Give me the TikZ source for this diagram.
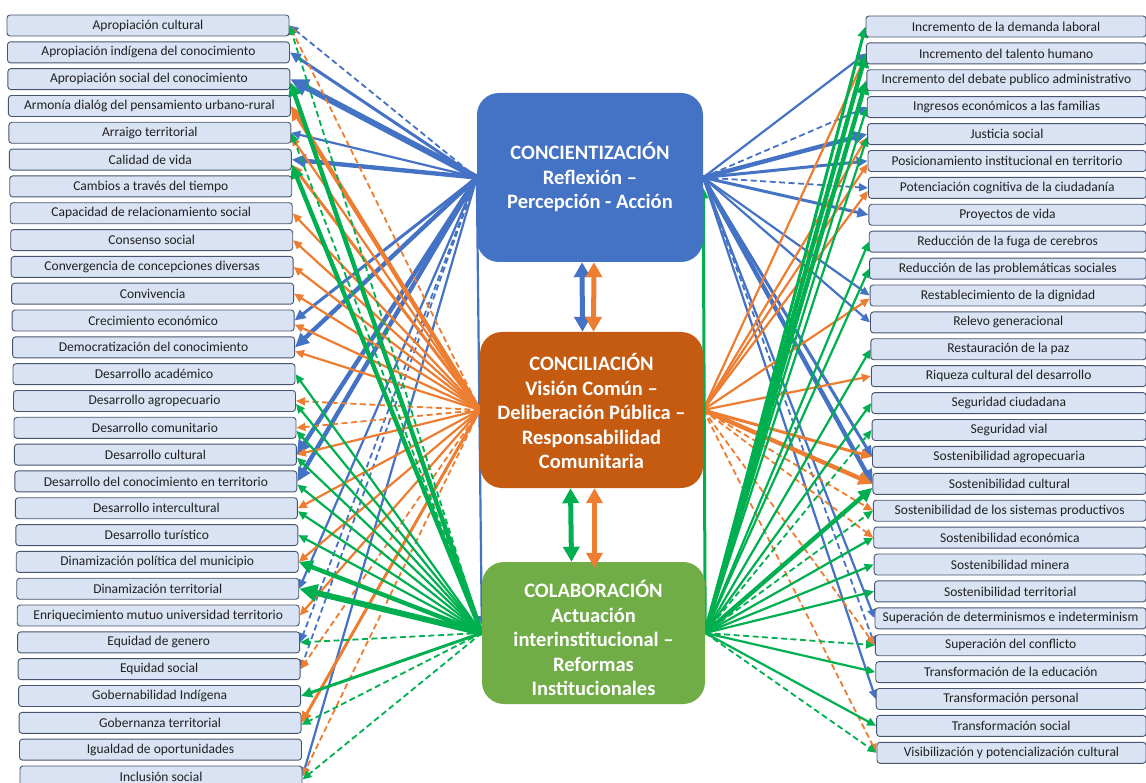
\documentclass[tikz,border=0pt]{standalone}
\usepackage{fontspec}
\setmainfont{Carlito}
\usetikzlibrary{arrows.meta,backgrounds}
\definecolor{cblue}{HTML}{4472C4}
\definecolor{corange}{HTML}{ED7D31}
\definecolor{cgreen}{HTML}{00B050}
\definecolor{boxfill}{HTML}{DAE3F3}
\definecolor{boxline}{HTML}{46556F}
\definecolor{hubblue}{HTML}{4472C4}
\definecolor{huborange}{HTML}{C55A11}
\definecolor{hubgreen}{HTML}{70AD47}
\definecolor{itemtext}{HTML}{202020}
\tikzset{
  item/.style={draw=boxline, line width=0.9pt, fill=boxfill, rounded corners=3pt,
    minimum height=21pt, inner sep=0pt, text=itemtext,
    font=\fontsize{13.5}{15}\selectfont},
  hub/.style={rounded corners=22pt, draw=none, inner sep=0pt},
  hubtext/.style={text=white, align=center, font=\fontsize{20.5}{24.5}\selectfont\bfseries},
  ln/.style={line width=2.2pt, -{Triangle[length=9pt,width=8pt]}},
  lm/.style={line width=3pt, -{Triangle[length=11pt,width=10pt]}},
  lt/.style={line width=4.4pt, -{Triangle[length=14pt,width=13pt]}},
  lx/.style={line width=6pt, -{Triangle[length=18pt,width=17pt]}},
  ld/.style={line width=1.8pt, dash pattern=on 6pt off 3.5pt, -{Triangle[length=9pt,width=8pt]}},
  both/.style={line width=5pt, {Triangle[length=15pt,width=16pt]}-{Triangle[length=15pt,width=16pt]}},
}
\begin{document}
\begin{tikzpicture}[x=1pt,y=-1pt]
\useasboundingbox (0,0) rectangle (1146,783);

% central boxes
\node[hub, fill=hubblue, minimum width=226pt, minimum height=169pt] (B) at (590,177.5) {};
\node[hub, fill=huborange, minimum width=223pt, minimum height=156pt] (O) at (591.5,410) {};
\node[hub, fill=hubgreen, minimum width=223pt, minimum height=142pt] (G) at (593.5,633) {};
\node[hubtext] (Bt) at (590,177.5) {CONCIENTIZACIÓN\\Reflexión –\\Percepción - Acción};
\node[hubtext] (Ot) at (591.5,411) {CONCILIACIÓN\\Visión Común –\\Deliberación Pública –\\Responsabilidad\\Comunitaria};
\node[hubtext] (Gt) at (593.5,638) {COLABORACIÓN\\Actuación\\interinstitucional –\\Reformas\\Institucionales};

% left column
\foreach \t [count=\i] in {Apropiación cultural, Apropiación indígena del conocimiento,
  Apropiación social del conocimiento, Armonía dialóg del pensamiento urbano-rural,
  Arraigo territorial, Calidad de vida, Cambios a través del tiempo,
  Capacidad de relacionamiento social, Consenso social,
  Convergencia de concepciones diversas, Convivencia, Crecimiento económico,
  Democratización del conocimiento, Desarrollo académico, Desarrollo agropecuario,
  Desarrollo comunitario, Desarrollo cultural,
  Desarrollo del conocimiento en territorio, Desarrollo intercultural,
  Desarrollo turístico, Dinamización política del municipio,
  Dinamización territorial, Enriquecimiento mutuo universidad territorio,
  Equidad de genero, Equidad social, Gobernabilidad Indígena,
  Gobernanza territorial, Igualdad de oportunidades, Inclusión social}{
  \pgfmathsetmacro\yy{25.5+(\i-1)*26.82}
  \pgfmathsetmacro\xx{148+(\i-1)*13/28}
  \node[item, minimum width=282pt] (L\i) at (\xx,\yy) {\t};
}

% right column
\foreach \t [count=\i] in {Incremento de la demanda laboral, Incremento del talento humano,
  Incremento del debate publico administrativo, Ingresos económicos a las familias,
  Justicia social, Posicionamiento institucional en territorio,
  Potenciación cognitiva de la ciudadanía, Proyectos de vida,
  Reducción de la fuga de cerebros, Reducción de las problemáticas sociales,
  Restablecimiento de la dignidad, Relevo generacional, Restauración de la paz,
  Riqueza cultural del desarrollo, Seguridad ciudadana, Seguridad vial,
  Sostenibilidad agropecuaria, Sostenibilidad cultural,
  Sostenibilidad de los sistemas productivos, Sostenibilidad económica,
  Sostenibilidad minera, Sostenibilidad territorial,
  Superación de determinismos e indeterminism, Superación del conflicto,
  Transformación de la educación, Transformación personal,
  Transformación social, Visibilización y potencialización cultural}{
  \pgfmathsetmacro\yy{26.5+(\i-1)*26.9}
  \pgfmathsetmacro\lx{866+(\i-1)*11/27}
  \pgfmathsetmacro\ww{1146-\lx}
  \pgfmathsetmacro\xx{(\lx+1146)/2}
  \node[item, minimum width=\ww pt] (R\i) at (\xx,\yy) {\t};
}

\begin{pgfonlayer}{background}
% ---- left side, from CONCIENTIZACIÓN
\begin{scope}[cblue]
\draw[ld] (B.west) -- (L1.east);
\draw[lm] (B.west) -- (L2.east);
\draw[lx] (B.west) -- (L3.east);
\draw[ln] (B.west) -- (L5.east);
\draw[lt] (B.west) -- (L6.east);
\draw[lm] (B.west) -- (L12.east);
\draw[lt] (B.west) -- (L13.east);
\draw[lt] (B.west) -- (L17.east);
\draw[lt] (B.west) -- (L18.east);
\draw[ln] (B.west) -- (L22.east);
\draw[ld] (B.west) -- (L24.east);
\draw[ld] (B.west) -- (L25.east);
\draw[ln] (B.west) -- (L29.east);
\draw[ln] (B.west) -- ([yshift=8pt]G.west);
\end{scope}
% ---- left side, from CONCILIACIÓN
\begin{scope}[corange]
\draw[ld] (O.west) -- (L1.east);
\draw[lt] (O.west) -- (L4.east);
\draw[ln] (O.west) -- ([yshift=-4pt]L5.east);
\draw[lm] (O.west) -- ([yshift=-5pt]L6.east);
\draw[ln] (O.west) -- (L8.east);
\draw[ln] (O.west) -- (L9.east);
\draw[ln] (O.west) -- (L10.east);
\draw[ln] (O.west) -- (L11.east);
\draw[ln] (O.west) -- ([yshift=-4pt]L12.east);
\draw[ln] (O.west) -- ([yshift=-4pt]L13.east);
\draw[ld] (O.west) -- (L15.east);
\draw[ld] (O.west) -- (L16.east);
\draw[ln] (O.west) -- (L17.east);
\draw[ln] (O.west) -- (L19.east);
\draw[ln] (O.west) -- (L21.east);
\draw[ln] (O.west) -- (L23.east);
\draw[ld] (O.west) -- (L25.east);
\draw[lm] (O.west) -- (L27.east);
\draw[ld] (O.west) -- (L29.east);
\end{scope}
% ---- left side, from COLABORACIÓN
\begin{scope}[cgreen]
\draw[ld] (G.west) -- (L1.east);
\draw[lt] (G.west) -- ([yshift=-3pt]L3.east);
\draw[ld] (G.west) -- (L5.east);
\draw[lt] (G.west) -- ([yshift=-5pt]L6.east);
\draw[ln] (G.west) -- (L14.east);
\draw[ln] (G.west) -- ([yshift=-3pt]L15.east);
\draw[ln] (G.west) -- ([yshift=-3pt]L16.east);
\draw[ln] (G.west) -- ([yshift=-3pt]L17.east);
\draw[ln] (G.west) -- ([yshift=-3pt]L18.east);
\draw[ln] (G.west) -- ([yshift=-3pt]L19.east);
\draw[ln] (G.west) -- (L20.east);
\draw[lt] (G.west) -- (L21.east);
\draw[lx] (G.west) -- (L22.east);
\draw[ld] (G.west) -- (L24.east);
\draw[lm] (G.west) -- (L26.east);
\draw[ld] (G.west) -- ([yshift=-2pt]L27.east);
\draw[ld] (G.west) -- ([yshift=-3pt]L29.east);
\end{scope}
% ---- right side, from CONCIENTIZACIÓN
\begin{scope}[cblue]
\draw[ln] (B.east) -- (R2.west);
\draw[ld] (B.east) -- (R4.west);
\draw[lt] (B.east) -- (R5.west);
\draw[lm] (B.east) -- (R6.west);
\draw[ld] (B.east) -- (R7.west);
\draw[lm] (B.east) -- (R8.west);
\draw[ln] (B.east) -- (R11.west);
\draw[ln] (B.east) -- (R12.west);
\draw[lm] (B.east) -- (R17.west);
\draw[lt] (B.east) -- (R18.west);
\draw[ln] (B.east) -- (R23.west);
\draw[ld] (B.east) -- (R24.west);
\draw[ln] (B.east) -- (R26.west);
\end{scope}
% ---- right side, from CONCILIACIÓN
\begin{scope}[corange]
\draw[ln] (O.east) -- ([yshift=-2pt]R2.west);
\draw[ln] (O.east) -- ([yshift=-3pt]R5.west);
\draw[ln] (O.east) -- ([yshift=-3pt]R6.west);
\draw[ln] (O.east) -- ([yshift=-3pt]R7.west);
\draw[ln] (O.east) -- ([yshift=-3pt]R11.west);
\draw[ln] (O.east) -- (R14.west);
\draw[lm] (O.east) -- (R17.west);
\draw[lt] (O.east) -- (R18.west);
\draw[ld] (O.east) -- (R19.west);
\draw[ld] (O.east) -- (R20.west);
\draw[ld] (O.east) -- (R24.west);
\draw[ld] (O.east) -- (R28.west);
\end{scope}
% ---- right side, from COLABORACIÓN
\begin{scope}[cgreen]
\draw[lm] (G.east) -- (R1.west);
\draw[lt] (G.east) -- (R2.west);
\draw[lt] (G.east) -- (R3.west);
\draw[ln] (G.east) -- (R4.west);
\draw[ln] (G.east) -- ([yshift=-3pt]R5.west);
\draw[ln] (G.east) -- (R9.west);
\draw[ln] (G.east) -- (R10.west);
\draw[ln] (G.east) -- (R13.west);
\draw[ln] (G.east) -- (R15.west);
\draw[ld] (G.east) -- (R16.west);
\draw[lt] (G.east) -- ([yshift=-4pt]R18.west);
\draw[ld] (G.east) -- (R19.west);
\draw[ln] (G.east) -- (R20.west);
\draw[ln] (G.east) -- (R21.west);
\draw[ln] (G.east) -- (R22.west);
\draw[ld] (G.east) -- (R24.west);
\draw[ln] (G.east) -- (R25.west);
\draw[ln] (G.east) -- (R27.west);
\draw[ld] (G.east) -- (R28.west);
\draw[lm] (G.east) -- ([yshift=-10pt]B.east);
\end{scope}
\end{pgfonlayer}

% links between the central boxes
\draw[both, cblue] ([xshift=-8pt]B.south) -- ([xshift=-9pt]O.north);
\draw[both, corange] ([xshift=4pt]B.south) -- ([xshift=2pt]O.north);
\draw[both, cgreen] ([xshift=-21pt]O.south) -- ([xshift=-22pt]G.north);
\draw[both, corange] ([xshift=3pt]O.south) -- ([xshift=1pt,yshift=-6pt]G.north);
\end{tikzpicture}
\end{document}
